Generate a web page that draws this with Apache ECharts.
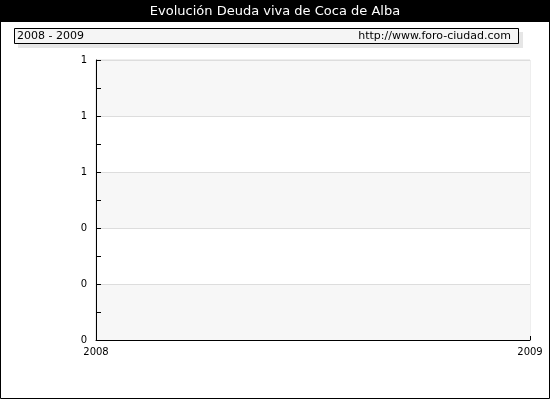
<!DOCTYPE html>
<html><head><meta charset="utf-8">
<script src="https://cdn.jsdelivr.net/npm/echarts@6/dist/echarts.min.js"></script>
<style>html,body{margin:0;padding:0;background:#fff}#c{width:550px;height:400px}</style>
</head><body><div id="c"></div>
<script>
var titleText = 'Evolución Deuda viva de Coca de Alba';
var periodText = '2008 - 2009';
var sourceText = 'http://www.foro-ciudad.com';
var years = [2008, 2009];
var debtValues = [null, null];
var yMin = 0, yMax = 1, yStep = 0.2;

var chart = echarts.init(document.getElementById('c'), null, {renderer: 'canvas'});
var font = 'DejaVu Sans';
chart.setOption({
  animation: false,
  backgroundColor: '#fff',
  grid: {left: 96, right: 20, top: 60, bottom: 60, show: true, borderColor: '#dddddd', borderWidth: 1, backgroundColor: 'transparent'},
  xAxis: {
    type: 'value', min: years[0], max: years[years.length - 1], interval: 1,
    axisLine: {lineStyle: {color: '#000', width: 1}},
    axisTick: {show: true, inside: true, length: 4, lineStyle: {color: '#000'}},
    axisLabel: {color: '#000', fontFamily: font, fontSize: 10, margin: 7, formatter: function (v) { return String(v); }},
    splitLine: {show: false}
  },
  yAxis: {
    type: 'value', min: yMin, max: yMax, interval: yStep,
    axisLine: {show: true, lineStyle: {color: '#000', width: 1}},
    axisTick: {show: true, inside: true, length: 5, lineStyle: {color: '#000'}},
    minorTick: {show: true, splitNumber: 2, length: 5, lineStyle: {color: '#000'}},
    axisLabel: {color: '#000', fontFamily: font, fontSize: 10, margin: 9, formatter: function (v) { return Math.round(v).toString(); }},
    splitLine: {show: true, lineStyle: {color: '#dddddd', width: 1}},
    splitArea: {show: true, areaStyle: {color: ['#f7f7f7', '#ffffff']}}
  },
  series: [{
    type: 'line', data: years.map(function (y, i) { return [y, debtValues[i]]; }),
    showSymbol: false, lineStyle: {color: '#3366cc'}
  }],
  graphic: [
    {type: 'rect', shape: {x: 0, y: 0, width: 550, height: 22}, style: {fill: '#000'}, z: 10},
    {type: 'text', x: 275, y: 12, style: {text: titleText, fill: '#fff', font: '13px ' + font, textAlign: 'center', textVerticalAlign: 'middle'}, z: 11},
    {type: 'rect', shape: {x: 18, y: 32, width: 505, height: 16}, style: {fill: '#e6e6e6'}, z: 10},
    {type: 'rect', shape: {x: 14.5, y: 28.5, width: 504, height: 15}, style: {fill: '#f5f5f5', stroke: '#000', lineWidth: 1}, z: 11},
    {type: 'text', x: 17, y: 36.5, style: {text: periodText, fill: '#000', font: '11px ' + font, textAlign: 'left', textVerticalAlign: 'middle'}, z: 12},
    {type: 'text', x: 511, y: 36.5, style: {text: sourceText, fill: '#000', font: '11px ' + font, textAlign: 'right', textVerticalAlign: 'middle'}, z: 12},
    {type: 'rect', shape: {x: 0.5, y: 0.5, width: 549, height: 398}, style: {fill: null, stroke: '#000', lineWidth: 1}, z: 12}
  ]
});
</script></body></html>
